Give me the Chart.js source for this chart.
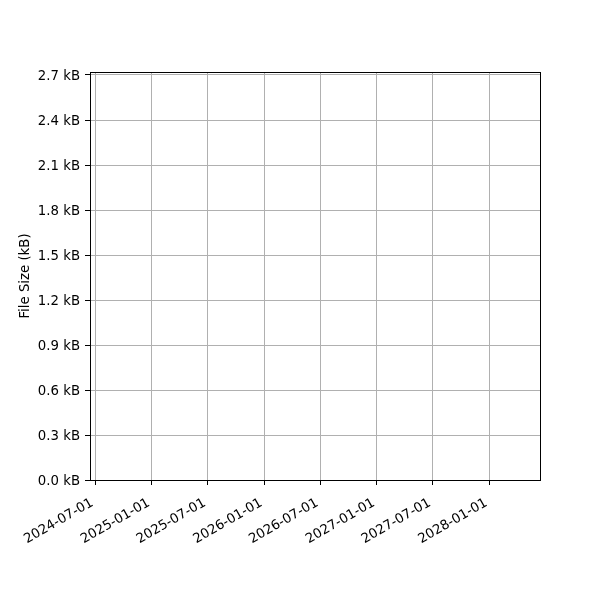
<!DOCTYPE html>
<html>
<head>
<meta charset="utf-8">
<script src="https://cdn.jsdelivr.net/npm/chart.js@4"></script>
<style>
html,body{margin:0;padding:0;background:#fff;}
#wrap{width:600px;height:600px;}
</style>
</head>
<body>
<div id="wrap"><canvas id="c" width="600" height="600"></canvas></div>
<script>
// Data (the reference chart contains no plotted data)
const dates = [];
const fileSizes = [];
// Tick labels
const xTickLabels = ["2024-07-01","2025-01-01","2025-07-01","2026-01-01","2026-07-01","2027-01-01","2027-07-01","2028-01-01"];
const yTickValues = [0.0,0.3,0.6,0.9,1.2,1.5,1.8,2.1,2.4,2.7];
const xRange = ["2024-06-14","2028-06-13"];
const yRange = [0, 2.72];

const toMs = s => { const [y,m,d] = s.split("-").map(Number); return Date.UTC(y,m-1,d); };
const xTickMs = xTickLabels.map(toMs);

const FONT = {family: "'DejaVu Sans', sans-serif", size: 13.3};

const framePlugin = {
  id: 'frame',
  afterDraw(chart){
    const a = chart.chartArea, ctx = chart.ctx;
    ctx.save();
    ctx.strokeStyle = '#000';
    ctx.lineWidth = 1;
    ctx.strokeRect(Math.round(a.left)+0.5, Math.round(a.top)+0.5, Math.round(a.right-a.left), Math.round(a.bottom-a.top));
    ctx.restore();
  }
};

new Chart(document.getElementById('c'), {
  type: 'line',
  data: {
    datasets: [{
      label: 'File Size',
      data: dates.map((d,i)=>({x: toMs(d), y: fileSizes[i]})),
      borderColor: '#1f77b4',
      pointRadius: 0
    }]
  },
  plugins: [framePlugin],
  options: {
    responsive: false,
    animation: false,
    devicePixelRatio: 1,
    layout: {padding: {left: 0, top: 72, right: 60, bottom: 0}},
    plugins: {legend: {display: false}, tooltip: {enabled: false}},
    scales: {
      x: {
        type: 'linear',
        min: toMs(xRange[0]),
        max: toMs(xRange[1]),
        afterBuildTicks(scale){ scale.ticks = xTickMs.map(v => ({value: v})); },
        afterFit(scale){ scale.height = 120; },
        grid: {color: '#b0b0b0', tickColor: '#000', tickLength: 5, lineWidth: 1},
        border: {color: '#000', width: 1},
        ticks: {
          color: '#000', font: FONT, padding: 10, labelOffset: -3,
          minRotation: 30, maxRotation: 30, autoSkip: false,
          callback(v){ const i = xTickMs.indexOf(v); return i >= 0 ? xTickLabels[i] : ''; }
        }
      },
      y: {
        type: 'linear',
        min: yRange[0],
        max: yRange[1],
        afterBuildTicks(scale){ scale.ticks = yTickValues.map(v => ({value: v})); },
        afterFit(scale){ scale.width = 90; },
        grid: {color: '#b0b0b0', tickColor: '#000', tickLength: 5, lineWidth: 1},
        border: {color: '#000', width: 1},
        title: {display: true, text: 'File Size (kB)', color: '#000', font: FONT, padding: {top: 18, bottom: 0}},
        ticks: {
          color: '#000', font: FONT, padding: 5, labelOffset: 2,
          callback(v){ return v.toFixed(1) + ' kB'; }
        }
      }
    }
  }
});
</script>
</body>
</html>
